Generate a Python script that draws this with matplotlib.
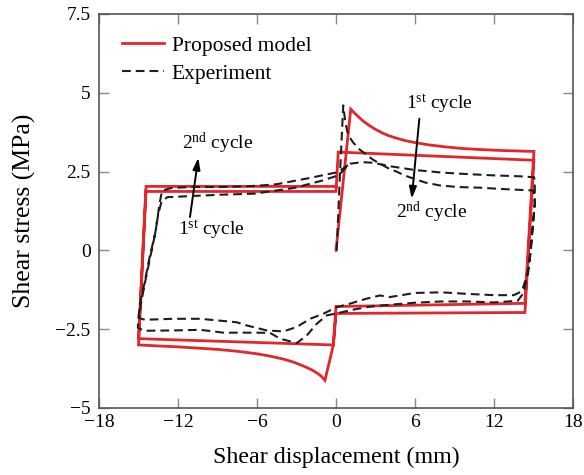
import matplotlib
matplotlib.use("Agg")
import matplotlib.pyplot as plt
import numpy as np

plt.rcParams['font.family'] = ['Liberation Serif', 'DejaVu Serif']
plt.rcParams['mathtext.fontset'] = 'custom'
plt.rcParams['mathtext.rm'] = 'Liberation Serif'
plt.rcParams['mathtext.it'] = 'Liberation Serif:italic'

# ---------------- data ----------------
model_x = [0.0, 1.12, 1.4, 1.7, 2.07, 2.5, 3.0, 3.5, 4.0, 4.6, 5.2, 5.87, 7.0, 8.4, 9.7, 10.93, 12.5, 15.03,
           14.35, 0.0, -0.2,
           -0.84, -1.1, -1.4, -1.8, -2.2, -2.7, -3.2, -3.8, -4.5, -5.2, -6.0, -7.5, -9.0, -10.5, -12.0, -13.5, -15.0,
           -14.43, 0.0, 0.17, 15.03,
           14.35, 0.0, -0.2, -15.0,
           -14.43, 0.02]
model_y = [0.0, 4.48, 4.36, 4.24, 4.10, 3.97, 3.84, 3.73, 3.64, 3.56, 3.49, 3.43, 3.35, 3.28, 3.23, 3.20, 3.17, 3.14,
           -1.68, -1.78, -3.0,
           -4.12, -4.0, -3.9, -3.8, -3.72, -3.63, -3.55, -3.47, -3.40, -3.34, -3.28, -3.20, -3.14, -3.10, -3.06, -3.03, -3.0,
           1.87, 1.87, 3.12, 2.86,
           -1.97, -2.0, -3.0, -2.8,
           2.03, 2.03]

exp_x = [0.05, 0.3, 0.55, 0.7, 0.85, 1.05, 1.31, 1.8, 2.33, 2.8, 3.34, 4.0, 4.6, 5.2, 5.87, 6.8, 7.9, 9.3, 10.93,
         12.5, 14.0, 15.0,
         15.1, 14.95, 14.75, 14.5, 14.25, 13.8, 12.0, 10.0, 8.0, 6.0, 3.34, 2.33, 1.06, 0.05,
         -0.7, -1.47, -2.22, -2.98, -4.25, -5.0, -6.02, -8.56, -9.3, -10.3, -12.35, -14.6, -15.05,
         -15.0, -14.85, -14.55, -14.15, -13.75, -13.5, -13.25, -12.8, -8.56, -6.2, -3.2, -1.0, 0.17,
         1.06, 2.0, 2.83, 4.1, 6.0, 8.0, 10.0, 12.0, 14.0, 15.05,
         15.1, 15.1, 14.95, 14.8, 14.6, 14.35, 14.1, 13.5, 12.0, 10.0, 8.0, 6.0, 4.1, 3.34, 2.33, 1.06, 0.05,
         -0.96, -1.97, -2.98, -4.0, -5.26, -6.78, -7.54, -10.3, -12.35, -14.5, -14.95,
         -14.9, -14.75, -14.5, -14.1, -13.7, -13.4, -13.2, -12.5, -11.1, -8.56, -6.0, -4.5, -2.22, 0.0, 0.55, 1.06]
exp_y = [0.0, 2.4, 4.6, 4.1, 3.78, 3.58, 3.42, 3.2, 3.03, 2.88, 2.75, 2.6, 2.5, 2.38, 2.28, 2.15, 2.06, 2.01, 1.99,
         1.95, 1.92, 1.90,
         1.5, 0.8, -0.1, -0.85, -1.35, -1.6, -1.65, -1.62, -1.62, -1.66, -1.75, -1.8, -1.9, -2.0,
         -2.06, -2.33, -2.7, -2.94, -2.8, -2.62, -2.61, -2.61, -2.57, -2.52, -2.54, -2.55, -2.45,
         -2.1, -1.6, -1.05, -0.2, 0.5, 1.15, 1.55, 1.69, 1.77, 1.8, 1.98, 2.22, 2.38,
         2.75, 2.8, 2.78, 2.67, 2.55, 2.47, 2.42, 2.38, 2.35, 2.32,
         2.0, 1.5, 0.8, 0.0, -0.7, -1.0, -1.3, -1.42, -1.42, -1.38, -1.33, -1.35, -1.48, -1.43, -1.53, -1.69, -1.8,
         -2.01, -2.17, -2.43, -2.57, -2.54, -2.38, -2.28, -2.17, -2.17, -2.2, -2.15,
         -1.9, -1.55, -1.0, -0.2, 0.6, 1.5, 1.9, 1.98, 2.01, 2.01, 2.05, 2.1, 2.28, 2.47, 2.6, 2.75]

x_ticks = [-18, -12, -6, 0, 6, 12, 18]
x_tick_labels = ['\u221218', '\u221212', '\u22126', '0', '6', '12', '18']
y_ticks = [7.5, 5, 2.5, 0, -2.5, -5]
y_tick_labels = ['7.5', '5', '2.5', '0', '\u22122.5', '\u22125']

series_labels = ['Proposed model', 'Experiment']

# ---------------- figure ----------------
fig = plt.figure(figsize=(5.84, 4.75), dpi=100)
ax = fig.add_axes([99/584, 67/475, 474/584, 394/475])

red = '#e3262b'
ax.plot(model_x, model_y, color=red, lw=2.0, label=series_labels[0],
        solid_joinstyle='miter', zorder=3)
ax.plot(exp_x, exp_y, color='#1e1e1e', lw=1.5, dashes=(4.2, 2.4),
        label=series_labels[1], zorder=4)

ax.set_xlim(-18, 18)
ax.set_ylim(-5, 7.5)
ax.set_xticks(x_ticks)
ax.set_xticklabels(x_tick_labels)
ax.set_yticks(y_ticks)
ax.set_yticklabels(y_tick_labels)

ax.tick_params(axis='both', direction='in', length=7, width=1.0, color='#888888',
               top=True, right=True, labelsize=14)
ax.tick_params(axis='x', pad=4.5)
ax.tick_params(axis='y', pad=6)
for s in ax.spines.values():
    s.set_color('#555555')
    s.set_linewidth(1.2)

ax.set_xlabel('Shear displacement (mm)', fontsize=17.3, labelpad=11)
ax.set_ylabel('Shear stress (MPa)', fontsize=18.5, labelpad=14)

leg = ax.legend(loc='upper left', bbox_to_anchor=(23/474, 0.945), frameon=False,
                fontsize=15.5, borderpad=0, borderaxespad=0, handlelength=1.95,
                handletextpad=0.35, labelspacing=0.38)

arrow_kw = dict(arrowstyle='-|>,head_length=0.7,head_width=0.22', color='black', lw=1.4,
                shrinkA=0, shrinkB=0)
ax.annotate('', xy=(-10.46, 2.94), xytext=(-11.09, 1.06), arrowprops=arrow_kw)
ax.annotate('', xy=(5.75, 1.64), xytext=(6.33, 4.18), arrowprops=arrow_kw)

ax.text(-8.96, 3.4, r'2$^{\mathrm{nd}}$ cycle', fontsize=14, ha='center', va='center')
ax.text(-9.49, 0.63, r'1$^{\mathrm{st}}$ cycle', fontsize=14, ha='center', va='center')
ax.text(7.82, 4.63, r'1$^{\mathrm{st}}$ cycle', fontsize=14, ha='center', va='center')
ax.text(7.29, 1.21, r'2$^{\mathrm{nd}}$ cycle', fontsize=14, ha='center', va='center')

fig.savefig('out.png', dpi=100)
